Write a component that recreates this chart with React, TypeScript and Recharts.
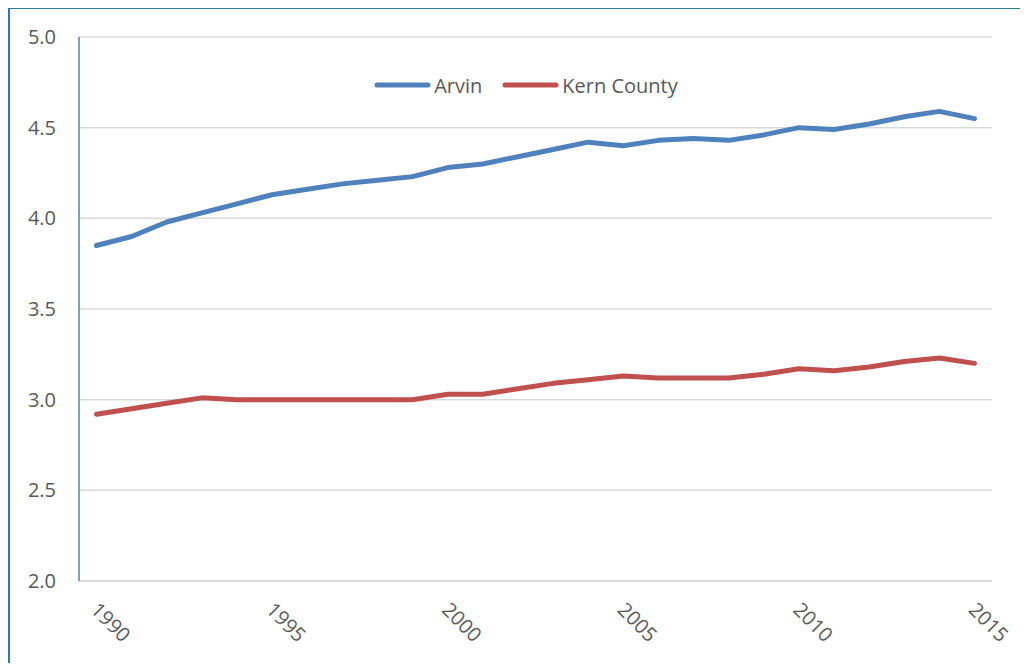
import React from 'react';
import { LineChart, Line, XAxis, YAxis, CartesianGrid, Legend } from 'recharts';

const years = [
  1990, 1991, 1992, 1993, 1994, 1995, 1996, 1997, 1998, 1999, 2000, 2001, 2002,
  2003, 2004, 2005, 2006, 2007, 2008, 2009, 2010, 2011, 2012, 2013, 2014, 2015,
];

const arvin = [
  3.85, 3.9, 3.98, 4.03, 4.08, 4.13, 4.16, 4.19, 4.21, 4.23, 4.28, 4.3, 4.34,
  4.38, 4.42, 4.4, 4.43, 4.44, 4.43, 4.46, 4.5, 4.49, 4.52, 4.56, 4.59, 4.55,
];

const kernCounty = [
  2.92, 2.95, 2.98, 3.01, 3.0, 3.0, 3.0, 3.0, 3.0, 3.0, 3.03, 3.03, 3.06,
  3.09, 3.11, 3.13, 3.12, 3.12, 3.12, 3.14, 3.17, 3.16, 3.18, 3.21, 3.23, 3.2,
];

const yTicks = [2.0, 2.5, 3.0, 3.5, 4.0, 4.5, 5.0];

const data = years.map((year, i) => ({ year, arvin: arvin[i], kern: kernCounty[i] }));

const FONT = '"Open Sans", sans-serif';
const TEXT = '#595959';

// rotated year labels, reading downwards to the right
const YearTick = (props: any) => {
  const { x, y, payload } = props;
  const tx = x - 7;
  const ty = y + 30;
  return (
    <text
      x={tx}
      y={ty}
      transform={`rotate(45, ${tx}, ${ty})`}
      textAnchor="start"
      fill={TEXT}
      fontSize={20}
      fontFamily={FONT}
    >
      {payload.value}
    </text>
  );
};

const renderLegend = (props: any) => {
  const { payload } = props;
  return (
    <div style={{ display: 'flex', justifyContent: 'center', alignItems: 'center', height: 28 }}>
      {payload.map((entry: any, i: number) => (
        <div key={`leg-${i}`} style={{ display: 'flex', alignItems: 'center', marginLeft: i > 0 ? 20 : 0 }}>
          <svg width={57} height={8} style={{ marginRight: 3 }}>
            <line x1={3} y1={4} x2={54} y2={4} stroke={entry.color} strokeWidth={5} strokeLinecap="round" />
          </svg>
          <span style={{ fontFamily: FONT, fontSize: 20, color: TEXT }}>{entry.value}</span>
        </div>
      ))}
    </div>
  );
};

export default function App() {
  return (
    <div
      style={{
        position: 'relative',
        width: 1020,
        height: 656,
        borderLeft: '2px solid #2E7E9B',
        borderTop: '2px solid #2E7E9B',
        marginTop: -1,
        boxSizing: 'border-box',
      }}
    >
      <div style={{ position: 'absolute', left: -2, top: -1 }}>
        <LineChart width={1022} height={657} data={data} margin={{ top: 29, right: 38, left: 0, bottom: 20 }}>
          <CartesianGrid horizontal vertical={false} stroke="#d9d9d9" strokeWidth={1.5} />
          <XAxis
            dataKey="year"
            type="category"
            interval={4}
            padding={{ left: 17.5, right: 17.5 }}
            axisLine={{ stroke: '#d9d9d9', strokeWidth: 1.5 }}
            tickLine={false}
            tickSize={0}
            tickMargin={0}
            height={64}
            tick={<YearTick />}
          />
          <YAxis
            type="number"
            domain={[2, 5]}
            ticks={yTicks}
            width={71}
            axisLine={{ stroke: '#4F81BD', strokeWidth: 1.5 }}
            tickLine={false}
            tickSize={0}
            tickMargin={23}
            tickFormatter={(v: number) => v.toFixed(1)}
            tick={{ fill: TEXT, fontSize: 20, fontFamily: FONT }}
          />
          <Legend
            verticalAlign="middle"
            align="center"
            layout="horizontal"
            content={renderLegend}
            wrapperStyle={{ top: 63, left: 71, width: 894 }}
          />
          <Line
            type="linear"
            dataKey="arvin"
            name="Arvin"
            stroke="#4F81BD"
            strokeWidth={5}
            strokeLinecap="round"
            strokeLinejoin="round"
            dot={false}
            activeDot={false}
            isAnimationActive={false}
          />
          <Line
            type="linear"
            dataKey="kern"
            name="Kern County"
            stroke="#C0504D"
            strokeWidth={5}
            strokeLinecap="round"
            strokeLinejoin="round"
            dot={false}
            activeDot={false}
            isAnimationActive={false}
          />
        </LineChart>
      </div>
    </div>
  );
}
